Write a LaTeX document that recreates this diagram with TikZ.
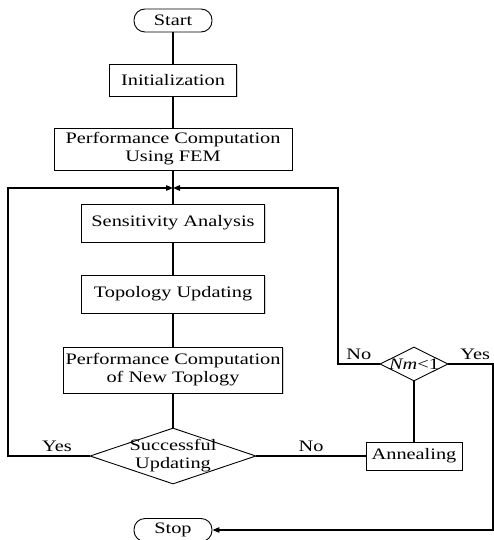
\documentclass[tikz,border=0pt]{standalone}
\usepackage{fontspec}
\setmainfont{Liberation Serif}[FakeStretch=1.27]
\usetikzlibrary{positioning,shapes.geometric,arrows.meta,shadows}
\tikzstyle{block} = [draw, fill=white, rectangle, line width=0.9pt, minimum height=38pt, minimum width=183pt, inner sep=2pt, align=center, drop shadow={shadow xshift=1pt, shadow yshift=-1pt, opacity=0.35}]
\tikzstyle{term} = [draw, fill=white, rectangle, rounded corners=11pt, line width=0.9pt, minimum height=23pt, minimum width=78pt, inner sep=1pt]
\tikzstyle{decision} = [draw, fill=white, diamond, line width=0.9pt, inner sep=0pt]
\tikzstyle{turn} = [coordinate]

\begin{document}
\begin{tikzpicture}[auto, node distance=70pt, line width=1.2pt,
    font=\fontsize{16}{18}\selectfont,
    >={Triangle[length=7pt,width=5.5pt]}]
        \useasboundingbox (0,0) rectangle (493pt,-540pt);
        \node [term] at (173pt,-20.5pt) (start) {Start};
        \node [block, minimum width=127pt, minimum height=32pt, below of=start, node distance=59.5pt] (init) {Initialization};
        \node [block, minimum width=238pt, minimum height=42pt, below of=init, node distance=69pt] (fem) {Performance Computation\\Using FEM};
        \node [turn, below of=fem, node distance=39pt] (join) {};
        \node [block, below of=fem, node distance=74pt] (sens) {Sensitivity Analysis};
        \node [block, below of=sens, node distance=71pt] (topo) {Topology Updating};
        \node [block, minimum width=219pt, minimum height=46pt, below of=topo, node distance=76pt] (newp) {Performance Computation\\of New Toplogy};
        \node [decision, minimum width=166pt, minimum height=56pt, below of=newp, node distance=86pt,
            label={[align=center]center:Successful\\Updating}] (succ) {};
        \node [block, minimum width=96pt, minimum height=28pt, right of=succ, node distance=241pt] (anneal) {Annealing};
        \node [decision, minimum width=68pt, minimum height=34pt, above of=anneal, node distance=92pt,
            label={center:\textit{Nm}<1}] (nm) {};
        \node [term, below of=succ, node distance=74pt] (stop) {Stop};
        \node [turn, left of=succ, node distance=165pt] (lcorner) {};
        \node [turn, left of=nm, node distance=76pt] (rcorner) {};
        \node [turn, right of=nm, node distance=79pt] (ycorner) {};

        \draw (start) -- (init);
        \draw (init) -- (fem);
        \draw (fem) -- (sens);
        \draw (sens) -- (topo);
        \draw (topo) -- (newp);
        \draw (newp) -- (succ);
        \draw (anneal) -- (nm);

        \draw [->] (succ) -- node [above, pos=0.4] {Yes} (lcorner) |- (join);
        \draw (succ) -- node [above] {No} (anneal);
        \draw [->] (nm) -- node [above] {No} (rcorner) |- (join);
        \draw [->] (nm) -- node [above, pos=0.6] {Yes} (ycorner) |- (stop);
    \end{tikzpicture}
\end{document}
